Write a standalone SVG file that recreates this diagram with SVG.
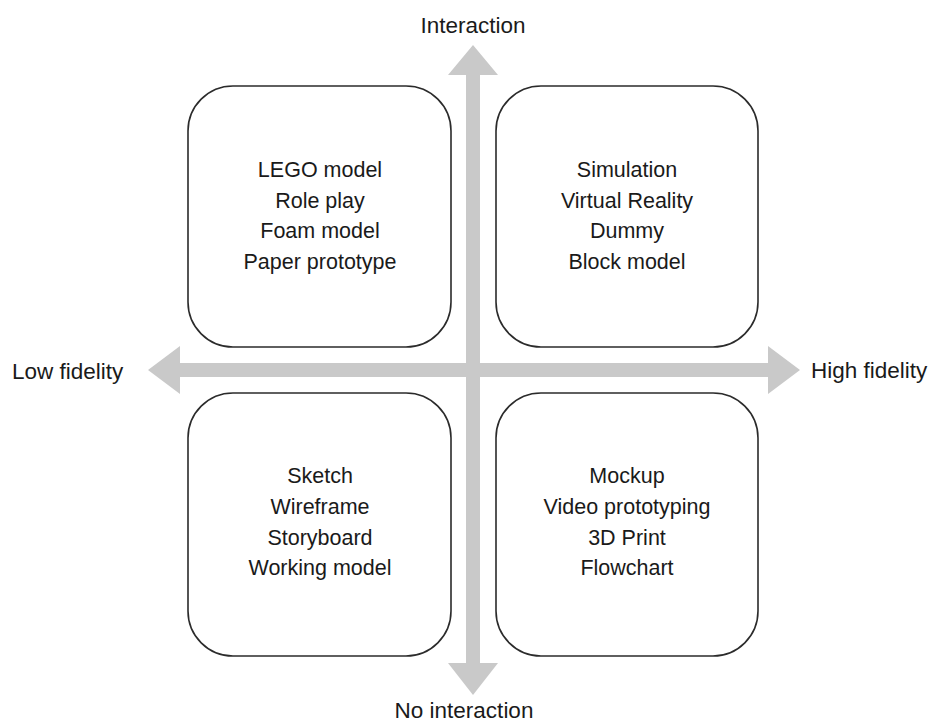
<svg xmlns="http://www.w3.org/2000/svg" width="935" height="722" viewBox="0 0 935 722">
  <style>
    .box { fill: #ffffff; stroke: #2b2b2b; stroke-width: 1.6; }
    .axis { fill: #c9c9c9; stroke: none; }
    .item { font-family: "Liberation Sans", Arial, sans-serif; font-size: 21.5px; fill: #1a1a1a; text-anchor: middle; }
    .label { font-family: "Liberation Sans", Arial, sans-serif; font-size: 22.5px; fill: #1a1a1a; }
  </style>
  <rect width="935" height="722" fill="#ffffff"/>

  <!-- two double-headed axes -->
  <g id="connectors">
    <path id="axis-fidelity" class="axis" d="M148,370 L180,346 L180,363 L768,363 L768,346 L800,370 L768,394 L768,377 L180,377 L180,394 Z"/>
    <path id="axis-interaction" class="axis" d="M473,45 L498,75 L480,75 L480,663 L498,663 L473,695 L448,663 L466,663 L466,75 L448,75 Z"/>
  </g>

  <!-- axis end labels -->
  <g id="label-interaction"><text class="label" x="473" y="33" text-anchor="middle">Interaction</text></g>
  <g id="label-no-interaction"><text class="label" x="464" y="718" text-anchor="middle">No interaction</text></g>
  <g id="label-low"><text class="label" x="12" y="379">Low fidelity</text></g>
  <g id="label-high"><text class="label" x="811" y="378">High fidelity</text></g>

  <!-- quadrants -->
  <g id="quad-low-interaction">
    <rect class="box" x="188" y="86" width="263" height="261" rx="45" ry="45"/>
    <text class="item" x="320" y="177">LEGO model</text>
    <text class="item" x="320" y="207.5">Role play</text>
    <text class="item" x="320" y="238">Foam model</text>
    <text class="item" x="320" y="268.5">Paper prototype</text>
  </g>
  <g id="quad-high-interaction">
    <rect class="box" x="496" y="86" width="262" height="261" rx="45" ry="45"/>
    <text class="item" x="627" y="177">Simulation</text>
    <text class="item" x="627" y="207.5">Virtual Reality</text>
    <text class="item" x="627" y="238">Dummy</text>
    <text class="item" x="627" y="268.5">Block model</text>
  </g>
  <g id="quad-low-static">
    <rect class="box" x="188" y="393" width="263" height="263" rx="45" ry="45"/>
    <text class="item" x="320" y="483">Sketch</text>
    <text class="item" x="320" y="514">Wireframe</text>
    <text class="item" x="320" y="545">Storyboard</text>
    <text class="item" x="320" y="575">Working model</text>
  </g>
  <g id="quad-high-static">
    <rect class="box" x="496" y="393" width="262" height="263" rx="45" ry="45"/>
    <text class="item" x="627" y="483">Mockup</text>
    <text class="item" x="627" y="514">Video prototyping</text>
    <text class="item" x="627" y="545">3D Print</text>
    <text class="item" x="627" y="575">Flowchart</text>
  </g>
</svg>
